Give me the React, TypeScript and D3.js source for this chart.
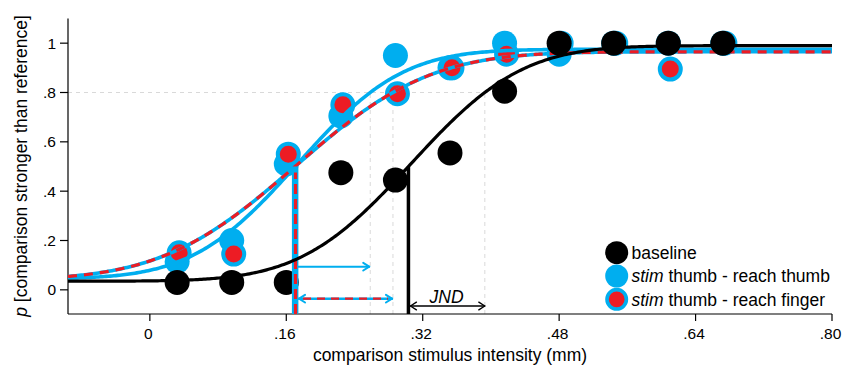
import React from "react";
import * as d3 from "d3";

// stimulus levels (mm)
const levels = [0.032, 0.096, 0.16, 0.224, 0.288, 0.352, 0.416, 0.48, 0.544, 0.608, 0.672];
// proportion "comparison stronger"
const baseline = [0.03, 0.03, 0.03, 0.475, 0.445, 0.555, 0.805, 1, 1, 1, 1];
const reachThumb = [0.115, 0.2, 0.51, 0.705, 0.95, 0.9, 1.0, 0.955, 1, 1, 1];
const reachFinger = [0.15, 0.145, 0.55, 0.75, 0.795, 0.9, 0.955, 1, 1, 0.895, 1];

// fitted psychometric functions: [mu, sigma, guess, lapse]
const fitBaseline = [0.3066, 0.102, 0.035, 0.01];
const fitReachThumb = [0.173, 0.0966, 0.045, 0.025];
const fitReachFinger = [0.1711, 0.1237, 0.04, 0.035];

const xTicks = [0, 0.16, 0.32, 0.48, 0.64, 0.8];
const xTickLabels = ["0", ".16", ".32", ".48", ".64", ".80"];
const yTicks = [0, 0.2, 0.4, 0.6, 0.8, 1];
const yTickLabels = ["0", ".2", ".4", ".6", ".8", "1"];

const BLUE = "#00AEEF";
const RED = "#ED1C24";
const FONT = "'Liberation Sans', Arial, Helvetica, sans-serif";

function erf(z: number) {
  const s = z < 0 ? -1 : 1;
  const a = Math.abs(z);
  const t = 1 / (1 + 0.3275911 * a);
  const yv =
    1 -
    ((((1.061405429 * t - 1.453152027) * t + 1.421413741) * t - 0.284496736) * t + 0.254829592) *
      t *
      Math.exp(-a * a);
  return s * yv;
}
function psy(p: number[], v: number) {
  const [mu, sd, g, l] = p;
  const phi = 0.5 * (1 + erf((v - mu) / (sd * Math.SQRT2)));
  return g + (1 - g - l) * phi;
}
function inv(p: number[], target: number) {
  let lo = -1, hi = 2;
  for (let i = 0; i < 60; i++) {
    const m = (lo + hi) / 2;
    if (psy(p, m) < target) lo = m;
    else hi = m;
  }
  return (lo + hi) / 2;
}

export default function App() {
  const W = 843, H = 366;
  const x = d3.scaleLinear().domain([-0.096, 0.8]).range([68, 832]);
  const y = d3.scaleLinear().domain([-0.1, 1.1]).range([314.5, 18.5]);
  const x0 = 68, yb = 314;

  const samples = d3.range(0, 401).map((i) => -0.096 + (i / 400) * 0.896);
  const mk = (p: number[]) =>
    d3
      .line<number>()
      .x((v) => x(v))
      .y((v) => y(psy(p, v)))(samples) as string;

  const pathBase = mk(fitBaseline);
  const pathThumb = mk(fitReachThumb);
  const pathFinger = mk(fitReachFinger);

  const pseBase = inv(fitBaseline, 0.5);
  const pseThumb = inv(fitReachThumb, 0.5);
  const pseFinger = inv(fitReachFinger, 0.5);
  const p80Base = inv(fitBaseline, 0.8);
  const p80Thumb = inv(fitReachThumb, 0.8);
  const p80Finger = inv(fitReachFinger, 0.8);

  const chev = (tx: number, ty: number, dir: number) =>
    `M${tx - dir * 6},${ty - 3.8} L${tx},${ty} L${tx - dir * 6},${ty + 3.8}`;

  const yArrowBlue = 266.7;
  const yArrowRed = 298.7;
  const yArrowJnd = 306;

  const legendItems = [
    { label: "baseline", type: "base" },
    { label: "thumb - reach thumb", type: "thumb" },
    { label: "thumb - reach finger", type: "finger" },
  ];

  return (
    <svg
      width={W}
      height={H}
      style={{ position: "absolute", left: 0, top: 0, background: "#fff" }}
      fontFamily={FONT}
    >
      <rect x={0} y={0} width={W} height={H} fill="#fff" />
      {/* guide lines */}
      <g stroke="#d9d9d9" strokeWidth={1} strokeDasharray="4 4" fill="none">
        <line x1={x0} x2={x(p80Base)} y1={y(0.8)} y2={y(0.8)} />
        {[p80Thumb, p80Finger, p80Base].map((v, i) => (
          <line key={i} x1={x(v)} x2={x(v)} y1={yb} y2={y(0.8)} />
        ))}
      </g>

      {/* axes */}
      <g stroke="#000" strokeWidth={1.2} fill="none">
        <line x1={x0} x2={x0} y1={y(1.1)} y2={yb} />
        <line x1={x0} x2={x(0.8)} y1={yb} y2={yb} />
        {yTicks.map((t) => (
          <line key={"yt" + t} x1={x0 - 8} x2={x0} y1={y(t)} y2={y(t)} />
        ))}
        {xTicks.map((t) => (
          <line key={"xt" + t} x1={x(t)} x2={x(t)} y1={yb} y2={yb + 7} />
        ))}
      </g>
      <g fontSize={15.5} fill="#000">
        {yTicks.map((t, i) => (
          <text key={"yl" + t} x={56} y={y(t) + 5.5} textAnchor="end">
            {yTickLabels[i]}
          </text>
        ))}
        {xTicks.map((t, i) => (
          <text key={"xl" + t} x={x(t) - 1.5} y={338.8} textAnchor="middle">
            {xTickLabels[i]}
          </text>
        ))}
      </g>
      <text x={450} y={361} textAnchor="middle" fontSize={17.5}>
        comparison stimulus intensity (mm)
      </text>
      <text transform="translate(27,166) rotate(-90)" textAnchor="middle" fontSize={17.5}>
        <tspan fontStyle="italic">p</tspan> [comparison stronger than reference]
      </text>

      {/* stim dots */}
      {levels.map((v, i) => (
        <circle key={"t" + i} cx={x(v)} cy={y(reachThumb[i])} r={12.5} fill={BLUE} />
      ))}
      {levels.map((v, i) => (
        <circle
          key={"f" + i}
          cx={x(v) + 2}
          cy={y(reachFinger[i])}
          r={10.5}
          fill={RED}
          stroke={BLUE}
          strokeWidth={4}
        />
      ))}

      {/* stim curves */}
      <path d={pathThumb} fill="none" stroke={BLUE} strokeWidth={3.6} />
      <path d={pathFinger} fill="none" stroke={BLUE} strokeWidth={3.6} />
      <path d={pathFinger} fill="none" stroke={RED} strokeWidth={3.2} strokeDasharray="9 7" />

      {/* black dots */}
      {levels.map((v, i) => (
        <circle key={"b" + i} cx={x(v)} cy={y(baseline[i])} r={12.5} fill="#000" />
      ))}

      {/* stim PSE lines */}
      <line x1={x(pseThumb)} x2={x(pseThumb)} y1={yb} y2={y(0.5)} stroke={BLUE} strokeWidth={6.5} />
      <line x1={x(pseFinger) + 0.5} x2={x(pseFinger) + 0.5} y1={yb} y2={y(0.5) + 6} stroke={RED} strokeWidth={3.2} strokeDasharray="10 5" />

      {/* baseline curve + PSE */}
      <path d={pathBase} fill="none" stroke="#000" strokeWidth={3.2} />
      <line x1={x(pseBase)} x2={x(pseBase)} y1={yb} y2={y(0.5)} stroke="#000" strokeWidth={3.5} />

      {/* arrows */}
      <g fill="none" strokeLinecap="round" strokeLinejoin="round">
        <line x1={x(pseThumb) + 3} x2={x(p80Thumb) - 1} y1={yArrowBlue} y2={yArrowBlue} stroke={BLUE} strokeWidth={2} />
        <path d={chev(x(p80Thumb) - 1, yArrowBlue, 1)} stroke={BLUE} strokeWidth={2} />

        <line x1={x(pseFinger) + 4} x2={x(p80Finger) - 1} y1={yArrowRed} y2={yArrowRed} stroke={BLUE} strokeWidth={2.6} />
        <line x1={x(pseFinger) + 8} x2={x(p80Finger) - 5} y1={yArrowRed} y2={yArrowRed} stroke={RED} strokeWidth={2.2} strokeDasharray="8 6" strokeLinecap="butt" />
        <path d={chev(x(pseFinger) + 4, yArrowRed, -1)} stroke={BLUE} strokeWidth={2} />
        <path d={chev(x(p80Finger) - 1, yArrowRed, 1)} stroke={BLUE} strokeWidth={2} />

        <line x1={x(pseBase) + 2} x2={x(p80Base)} y1={yArrowJnd} y2={yArrowJnd} stroke="#000" strokeWidth={1.4} />
        <path d={chev(x(pseBase) + 2, yArrowJnd, -1)} stroke="#000" strokeWidth={1.4} />
        <path d={chev(x(p80Base), yArrowJnd, 1)} stroke="#000" strokeWidth={1.4} />
      </g>
      <text x={(x(pseBase) + x(p80Base)) / 2} y={303} textAnchor="middle" fontSize={17.5} fontStyle="italic">
        JND
      </text>

      {/* legend */}
      {legendItems.map((d, i) => {
        const cy = 252.7 + i * 23.3;
        return (
          <g key={d.type}>
            {d.type === "base" && <circle cx={616.7} cy={cy} r={11.5} fill="#000" />}
            {d.type === "thumb" && <circle cx={616.7} cy={cy} r={11.5} fill={BLUE} />}
            {d.type === "finger" && (
              <circle cx={616.7} cy={cy} r={9.7} fill={RED} stroke={BLUE} strokeWidth={3.6} />
            )}
            <text x={631.5} y={cy + 6.2} fontSize={17.5}>
              {d.type !== "base" && <tspan fontStyle="italic">stim</tspan>}
              {d.type !== "base" ? " " + d.label : d.label}
            </text>
          </g>
        );
      })}
    </svg>
  );
}
